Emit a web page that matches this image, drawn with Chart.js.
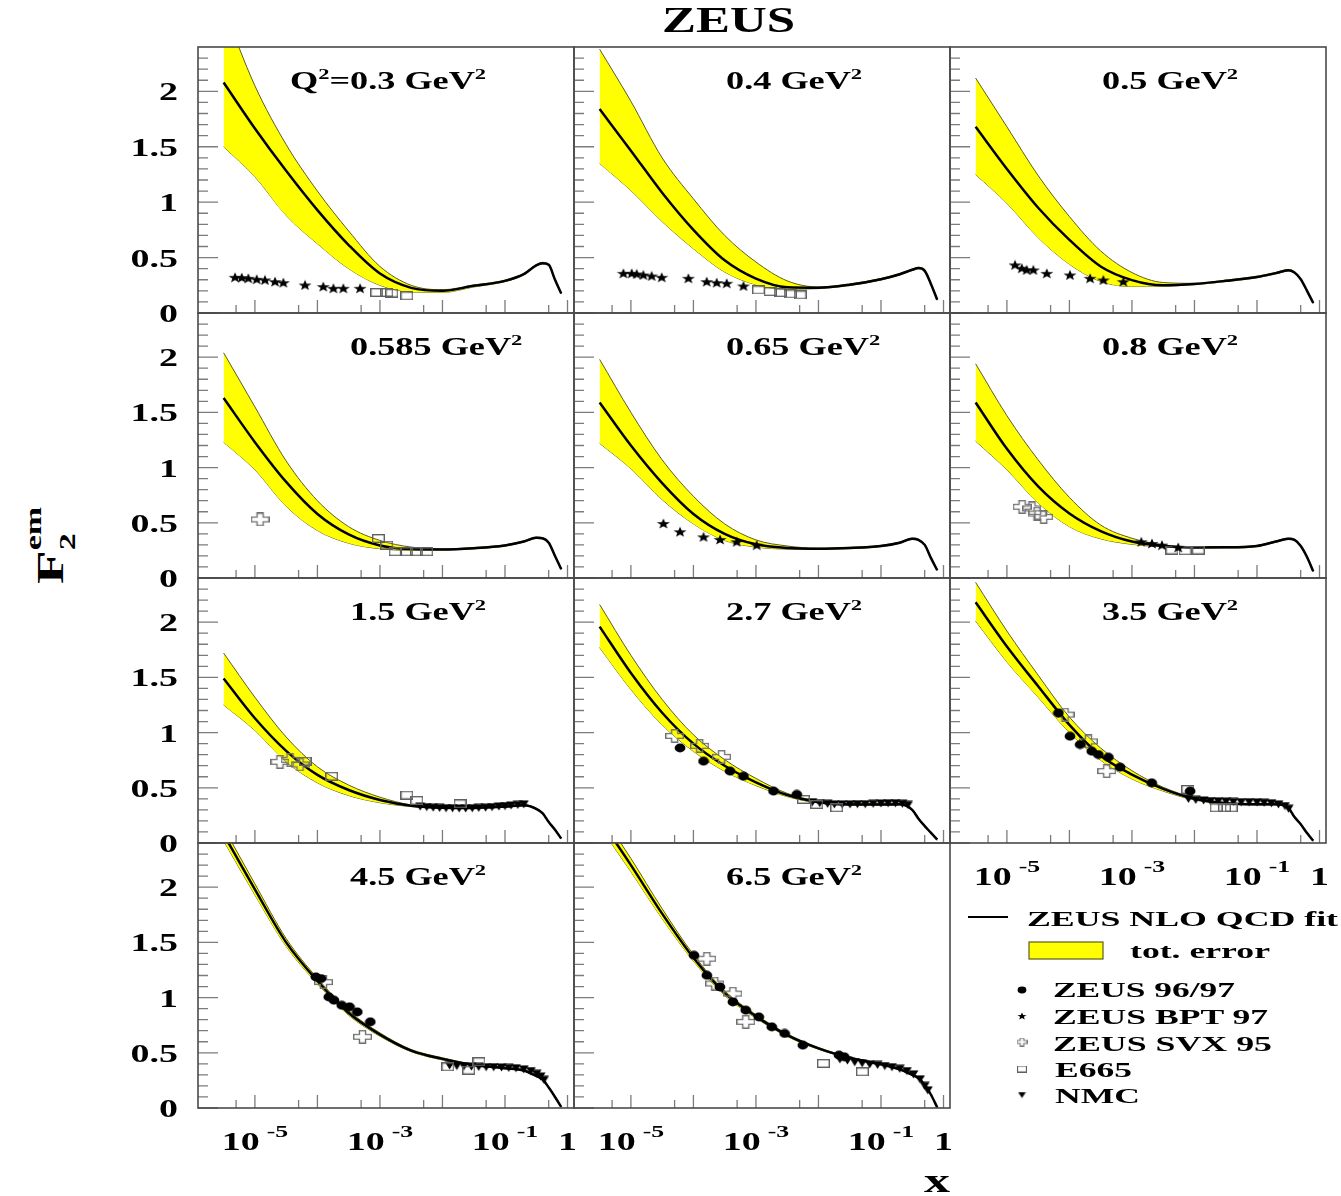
<!DOCTYPE html>
<html>
<head>
<meta charset="utf-8">
<title>ZEUS F2em low Q2</title>
<script src="https://cdn.jsdelivr.net/npm/chart.js@4.4.1/dist/chart.umd.min.js"></script>
<style>
html,body{margin:0;padding:0;background:#fff;}
body{position:relative;width:1341px;height:1196px;overflow:hidden;font-family:"Liberation Serif","Times New Roman",serif;font-weight:bold;color:#000;}
.t{position:absolute;white-space:nowrap;transform-origin:0 0;}
.sp{font-size:0.62em;position:relative;top:-0.66em;}
.sb{font-size:0.62em;position:relative;top:0.32em;}
.ysp{font-size:0.62em;position:relative;top:-0.95em;}
.ysb{font-size:0.62em;position:relative;top:0.5em;}
canvas{position:absolute;}
</style>
</head>
<body>
<script>
// ---------------- DATA ----------------
const Q2 = ['0.3','0.4','0.5','0.585','0.65','0.8','1.5','2.7','3.5','4.5','6.5'];

// x grid of the fit curves
const FIT_X = [3.16e-6, 1e-5, 3.16e-5, 1e-4, 3.16e-4, 1e-3, 3.16e-3, 1e-2, 3.16e-2, 0.1, 0.2, 0.316, 0.398, 0.501, 0.631, 0.794];

// ZEUS NLO QCD fit, central value, one row per Q2 bin
const FIT = [
 [2.08,1.665,1.283,0.928,0.613,0.356,0.227,0.200,0.245,0.290,0.350,0.430,0.450,0.435,0.300,0.175],
 [1.84,1.465,1.085,0.750,0.475,0.310,0.232,0.228,0.255,0.305,0.350,0.390,0.405,0.380,0.260,0.120],
 [1.68,1.300,0.950,0.660,0.420,0.297,0.250,0.262,0.290,0.325,0.360,0.385,0.365,0.305,0.200,0.090],
 [1.63,1.230,0.870,0.580,0.395,0.295,0.262,0.259,0.270,0.295,0.330,0.365,0.360,0.320,0.200,0.080],
 [1.59,1.200,0.860,0.580,0.400,0.305,0.272,0.265,0.272,0.290,0.320,0.355,0.345,0.300,0.180,0.070],
 [1.59,1.170,0.830,0.585,0.425,0.330,0.290,0.277,0.278,0.290,0.330,0.355,0.345,0.290,0.190,0.060],
 [1.49,1.130,0.835,0.617,0.480,0.390,0.338,0.320,0.318,0.330,0.342,0.310,0.270,0.190,0.120,0.040],
 [1.96,1.540,1.180,0.900,0.700,0.550,0.435,0.370,0.349,0.349,0.350,0.300,0.220,0.153,0.092,0.030],
 [2.18,1.780,1.420,1.070,0.790,0.620,0.490,0.400,0.360,0.350,0.350,0.320,0.235,0.170,0.090,0.020],
 [2.48,1.980,1.500,1.150,0.860,0.665,0.520,0.445,0.390,0.360,0.340,0.290,0.260,0.185,0.100,0.010],
 [2.62,2.200,1.760,1.360,1.040,0.830,0.660,0.540,0.455,0.395,0.350,0.300,0.270,0.210,0.120,0.005]
];
// upper edge of the total error band
const FIT_HI = [
 [2.75,2.05,1.52,1.10,0.74,0.42,0.25,0.21,0.252,0.297,0.357,0.437,0.457,0.442,0.306,0.18],
 [2.38,1.91,1.40,1.03,0.70,0.46,0.29,0.235,0.262,0.312,0.357,0.397,0.412,0.386,0.266,0.125],
 [2.12,1.68,1.24,0.87,0.56,0.365,0.275,0.268,0.297,0.332,0.367,0.392,0.371,0.31,0.205,0.095],
 [2.04,1.55,1.06,0.70,0.465,0.34,0.28,0.264,0.276,0.301,0.336,0.371,0.366,0.325,0.205,0.085],
 [1.98,1.50,1.07,0.74,0.49,0.345,0.29,0.27,0.278,0.296,0.326,0.361,0.351,0.305,0.185,0.075],
 [1.94,1.47,1.07,0.73,0.48,0.36,0.30,0.282,0.284,0.296,0.336,0.361,0.351,0.295,0.195,0.065],
 [1.72,1.32,0.96,0.69,0.525,0.415,0.345,0.325,0.324,0.336,0.348,0.316,0.276,0.195,0.125,0.045],
 [2.16,1.70,1.30,0.98,0.755,0.585,0.45,0.38,0.355,0.355,0.356,0.306,0.226,0.158,0.097,0.035],
 [2.36,1.92,1.52,1.14,0.86,0.655,0.505,0.41,0.366,0.356,0.356,0.326,0.241,0.175,0.095,0.025],
 [2.54,2.03,1.535,1.175,0.88,0.68,0.53,0.455,0.396,0.366,0.346,0.296,0.266,0.19,0.105,0.015],
 [2.69,2.26,1.805,1.39,1.062,0.846,0.672,0.548,0.461,0.401,0.356,0.306,0.276,0.215,0.125,0.01]
];
// lower edge of the total error band
const FIT_LO = [
 [1.50,1.23,0.88,0.625,0.40,0.25,0.19,0.185,0.235,0.283,0.343,0.423,0.443,0.428,0.294,0.17],
 [1.35,1.105,0.825,0.58,0.37,0.255,0.215,0.22,0.248,0.298,0.343,0.383,0.398,0.374,0.254,0.115],
 [1.25,0.99,0.68,0.44,0.285,0.24,0.242,0.256,0.283,0.318,0.353,0.378,0.359,0.30,0.195,0.085],
 [1.23,0.98,0.65,0.43,0.315,0.265,0.25,0.254,0.264,0.289,0.324,0.359,0.354,0.315,0.195,0.075],
 [1.22,0.99,0.71,0.49,0.34,0.28,0.262,0.26,0.266,0.284,0.314,0.349,0.339,0.295,0.175,0.065],
 [1.24,0.98,0.68,0.465,0.355,0.305,0.282,0.272,0.272,0.284,0.324,0.349,0.339,0.285,0.185,0.055],
 [1.25,1.02,0.735,0.545,0.43,0.365,0.33,0.315,0.312,0.324,0.336,0.304,0.264,0.185,0.115,0.035],
 [1.77,1.39,1.07,0.83,0.65,0.52,0.42,0.362,0.343,0.343,0.344,0.294,0.214,0.148,0.087,0.025],
 [2.01,1.64,1.32,1.00,0.75,0.58,0.47,0.39,0.354,0.344,0.344,0.314,0.229,0.165,0.085,0.015],
 [2.42,1.93,1.465,1.125,0.84,0.65,0.51,0.435,0.384,0.354,0.334,0.284,0.254,0.18,0.095,0.005],
 [2.55,2.14,1.715,1.33,1.018,0.814,0.648,0.532,0.449,0.389,0.344,0.294,0.264,0.205,0.115,0.0]
];

// measurements: [x, F2] per Q2 bin
const ZEUS_9697 = [
 [],[],[],[],[],[],[],
 [[6.11e-5,0.861],[1.45e-4,0.741],[3.85e-4,0.651],[6.31e-4,0.605],[1.91e-3,0.47],[4.5e-3,0.44]],
 [[6.65e-5,1.178],[1.02e-4,0.967],[1.48e-4,0.892],[2.28e-4,0.831],[2.9e-4,0.801],[4.2e-4,0.777],[6.46e-4,0.687],[2.07e-3,0.545],[8.51e-3,0.47]],
 [[9.44e-5,1.187],[1.14e-4,1.172],[1.52e-4,1.006],[1.84e-4,0.976],[2.45e-4,0.93],[3.26e-4,0.916],[4.34e-4,0.87],[7.0e-4,0.78]],
 [[1.02e-4,1.383],[1.64e-4,1.202],[2.65e-4,1.096],[4.28e-4,0.961],[6.87e-4,0.886],[1.11e-3,0.825],[1.79e-3,0.735],[2.88e-3,0.675],[5.62e-3,0.569],[2.13e-2,0.479],[2.58e-2,0.464]]
];
const ZEUS_BPT97 = [
 [[4.81e-6,0.322],[6.17e-6,0.319],[7.85e-6,0.313],[1.07e-5,0.304],[1.45e-5,0.298],[2.1e-5,0.283],[2.85e-5,0.274],[6.34e-5,0.253],[1.24e-4,0.238],[1.8e-4,0.223],[2.6e-4,0.223],[4.81e-4,0.223]],
 [[7.59e-6,0.358],[1.03e-5,0.358],[1.24e-5,0.352],[1.58e-5,0.343],[2.15e-5,0.334],[3.11e-5,0.322],[8.32e-5,0.313],[1.63e-4,0.283],[2.36e-4,0.274],[3.41e-4,0.268],[6.31e-4,0.244]],
 [[1.35e-5,0.434],[1.73e-5,0.404],[2.07e-5,0.389],[2.65e-5,0.389],[4.34e-5,0.358],[1.02e-4,0.343],[2.14e-4,0.313],[3.49e-4,0.298],[7.29e-4,0.283]],
 [],
 [[3.31e-5,0.494],[6.11e-5,0.419],[1.45e-4,0.373],[2.67e-4,0.349],[4.93e-4,0.328],[1.03e-3,0.298]],
 [[1.41e-3,0.328],[2.09e-3,0.313],[3.02e-3,0.298],[5.5e-3,0.277]],
 [],[],[],[],[]
];
const ZEUS_SVX95 = [
 [],[],[],
 [[1.21e-5,0.53]],
 [],
 [[1.75e-5,0.645],[2.52e-5,0.63],[3.03e-5,0.584],[3.88e-5,0.554]],
 [[2.52e-5,0.735],[3.65e-5,0.753],[5.27e-5,0.711]],
 [[5.01e-5,0.97],[1.26e-4,0.88],[2.82e-4,0.78]],
 [[8.51e-5,1.163],[2.01e-4,0.92],[3.95e-4,0.651]],
 [[1.25e-4,1.14],[5.25e-4,0.645]],
 [[1.64e-4,1.352],[2.19e-4,1.127],[4.28e-4,1.036],[6.87e-4,0.78]]
];
const E665 = [
 [[8.91e-4,0.185],[1.29e-3,0.185],[1.55e-3,0.18],[2.69e-3,0.155]],
 [[1.1e-3,0.208],[1.68e-3,0.193],[2.43e-3,0.184],[3.52e-3,0.172],[5.08e-3,0.163]],
 [],
 [[9.44e-4,0.358],[1.29e-3,0.298],[1.75e-3,0.238],[2.69e-3,0.238],[3.88e-3,0.238],[5.61e-3,0.238]],
 [],
 [[4.37e-3,0.253],[7.08e-3,0.247],[1.15e-2,0.253]],
 [[6.34e-5,0.741],[1.69e-4,0.605],[2.69e-3,0.434],[3.89e-3,0.386],[1.91e-2,0.355]],
 [[5.75e-3,0.395],[9.42e-3,0.349],[1.96e-2,0.319]],
 [[7.82e-3,0.485],[2.22e-2,0.319],[3.02e-2,0.319],[3.86e-2,0.319]],
 [[1.22e-2,0.373],[2.63e-2,0.343],[3.84e-2,0.419]],
 [[1.2e-2,0.404],[5.04e-2,0.328]]
];
const NMC = [
 [],[],[],[],[],[],
 [[4.4e-3,0.33],[5.6e-3,0.325],[7.1e-3,0.32],[9.0e-3,0.318],[1.14e-2,0.315],[1.45e-2,0.315],[1.85e-2,0.313],[2.35e-2,0.313],[3.0e-2,0.315],[3.8e-2,0.318],[4.9e-2,0.32],[6.2e-2,0.325],[8.0e-2,0.33],[0.1,0.335],[0.125,0.34],[0.16,0.345],[0.2,0.35]],
 [[0.008,0.37],[0.0105,0.36],[0.014,0.355],[0.018,0.35],[0.024,0.35],[0.032,0.35],[0.042,0.352],[0.056,0.352],[0.075,0.355],[0.1,0.358],[0.13,0.36],[0.17,0.36],[0.22,0.355],[0.27,0.345]],
 [[0.008,0.40],[0.0105,0.39],[0.014,0.385],[0.018,0.38],[0.024,0.378],[0.032,0.375],[0.042,0.372],[0.056,0.37],[0.075,0.37],[0.1,0.368],[0.13,0.365],[0.17,0.36],[0.22,0.35],[0.28,0.335],[0.32,0.31]],
 [[0.013,0.385],[0.017,0.38],[0.022,0.378],[0.029,0.375],[0.038,0.372],[0.05,0.37],[0.066,0.37],[0.088,0.367],[0.115,0.363],[0.15,0.36],[0.2,0.35],[0.26,0.335],[0.32,0.31],[0.37,0.285],[0.42,0.255]],
 [[0.022,0.44],[0.029,0.43],[0.038,0.415],[0.05,0.405],[0.066,0.395],[0.088,0.39],[0.115,0.38],[0.15,0.37],[0.2,0.355],[0.26,0.335],[0.33,0.305],[0.42,0.26],[0.5,0.2],[0.56,0.16]]
];

// axes / ticks
const X_MIN = 1.23e-6, X_MAX = 1.27, Y_MIN = 0, Y_MAX = 2.4;
const X_MAJOR = [1e-5,1e-4,1e-3,1e-2,1e-1,1];
const X_MINOR = [5e-6,5e-5,5e-4,5e-3,5e-2,0.5];
const X_LABELS = [[1e-5,'10','-5'],[1e-3,'10','-3'],[1e-1,'10','-1'],[1,'1','']];
const Y_MAJOR = [0,0.5,1,1.5,2];
const Y_LABELS = ['0','0.5','1','1.5','2'];
const Y_MINOR = [0.1,0.2,0.3,0.4,0.6,0.7,0.8,0.9,1.1,1.2,1.3,1.4,1.6,1.7,1.8,1.9,2.1,2.2,2.3];

// ---------------- LAYOUT ----------------
const COL_LEFT = [198, 574, 950], PANEL_W = 376;
const ROW_TOP = [47, 313, 578, 843], ROW_BOTTOM = [313, 578, 843, 1108];
const PADL = 100, PADR = 8, PADT = 8, PADB = 60;
const SX = 1.45;
const FF = '"Liberation Serif","Times New Roman",serif';

// ---------------- MARKERS ----------------
function mk(w,h,fn){const c=document.createElement('canvas');c.width=w;c.height=h;fn(c.getContext('2d'),w,h);return c;}
function circleM(w,h){return mk(w,h,g=>{g.fillStyle='#000';g.beginPath();g.ellipse(w/2,h/2,w/2-0.6,h/2-0.6,0,0,Math.PI*2);g.fill();});}
function starM(w,h){return mk(w,h,g=>{const rx=(w-1)/1.902, ry=(h-1)/1.809, cx=w/2, cy=0.5+ry;g.fillStyle='#000';g.beginPath();
  for(let k=0;k<10;k++){const r=k%2?0.42:1;const a=-Math.PI/2+k*Math.PI/5;const px=cx+r*rx*Math.cos(a),py=cy+r*ry*Math.sin(a);k?g.lineTo(px,py):g.moveTo(px,py);}g.closePath();g.fill();});}
function crossM(w,h,lw){return mk(w,h,g=>{const m=lw/2,x1=w*0.34,x2=w*0.66,y1=h*0.33,y2=h*0.67;g.strokeStyle='#707070';g.lineWidth=lw;g.beginPath();
  const P=[[x1,m],[x2,m],[x2,y1],[w-m,y1],[w-m,y2],[x2,y2],[x2,h-m],[x1,h-m],[x1,y2],[m,y2],[m,y1],[x1,y1]];
  P.forEach((p,i)=>i?g.lineTo(p[0],p[1]):g.moveTo(p[0],p[1]));g.closePath();g.stroke();});}
function squareM(w,h,lw){return mk(w,h,g=>{g.strokeStyle='#606060';g.lineWidth=lw;g.strokeRect(lw/2,lw/2,w-lw,h-lw);});}
function triM(w,h){return mk(w,h,g=>{g.fillStyle='#000';g.beginPath();g.moveTo(0.5,0.5);g.lineTo(w-0.5,0.5);g.lineTo(w/2,h-0.5);g.closePath();g.fill();});}

const M_CIRCLE = circleM(12,10), M_STAR = starM(14,11), M_CROSS = crossM(19,14,1.4), M_SQUARE = squareM(13,9,1.4), M_TRI = triM(11,9);

// ---------------- TEXT HELPERS ----------------
function txt(ctx, s, x, y, size, sx, align){
  ctx.save(); ctx.font = 'bold '+size+'px '+FF;
  const w = ctx.measureText(s).width*sx;
  const x0 = align==='right' ? x-w : align==='center' ? x-w/2 : x;
  ctx.translate(x0, y); ctx.scale(sx,1); ctx.textAlign='left'; ctx.textBaseline='alphabetic'; ctx.fillText(s,0,0); ctx.restore();
  return w;
}
function addText(html, x, baseline, fs, o){
  o = o || {};
  const el = document.createElement('div'); el.className='t'; el.innerHTML = html;
  el.style.fontSize = fs+'px'; el.style.lineHeight = fs+'px';
  document.body.appendChild(el);
  const w = el.getBoundingClientRect().width;
  const sx = o.width ? o.width / w : (o.sx || SX);
  let left = x;
  if (o.align==='center') left = x - w*sx/2; else if (o.align==='right') left = x - w*sx;
  el.style.left = left+'px'; el.style.top = (baseline - 0.8375*fs)+'px';
  el.style.transform = 'scaleX('+sx+')';
  return el;
}

// ---------------- AXES PLUGIN ----------------
const axesPlugin = {
  id: 'zeusAxes',
  afterDraw(chart, args, opts){
    const {ctx, chartArea:a} = chart, xs = chart.scales.x, ys = chart.scales.y;
    ctx.save();
    ctx.strokeStyle = '#7c7c7c'; ctx.lineWidth = 1.3; ctx.beginPath();
    X_MAJOR.forEach(v=>{const p=xs.getPixelForValue(v); ctx.moveTo(p,a.bottom); ctx.lineTo(p,a.bottom-13);});
    X_MINOR.forEach(v=>{const p=xs.getPixelForValue(v); ctx.moveTo(p,a.bottom); ctx.lineTo(p,a.bottom-8);});
    Y_MAJOR.forEach(v=>{const p=ys.getPixelForValue(v); ctx.moveTo(a.left,p); ctx.lineTo(a.left+20,p);});
    Y_MINOR.forEach(v=>{const p=ys.getPixelForValue(v); ctx.moveTo(a.left,p); ctx.lineTo(a.left+10,p);});
    ctx.stroke();
    ctx.strokeStyle = '#4a4a4a'; ctx.lineWidth = 1.6;
    ctx.strokeRect(a.left, a.top, a.right-a.left, a.bottom-a.top);
    ctx.fillStyle = '#000';
    if (opts.yLabels){
      Y_MAJOR.forEach((v,i)=>txt(ctx, Y_LABELS[i], a.left-20, ys.getPixelForValue(v)+9, 25, 1.52, 'right'));
    }
    if (opts.xLabels){
      X_LABELS.forEach(([v,base,ex])=>{
        const p = xs.getPixelForValue(v);
        ctx.font = 'bold 25px '+FF; const wb = ctx.measureText(base).width*1.52;
        ctx.font = 'bold 17px '+FF; const we = ex ? ctx.measureText(ex).width*1.52 : 0;
        const gap = ex ? 7 : 0, tot = wb+gap+we, x0 = p - tot/2;
        txt(ctx, base, x0, a.bottom+42, 25, 1.52, 'left');
        if (ex) txt(ctx, ex, x0+wb+gap, a.bottom+29, 17, 1.52, 'left');
      });
    }
    ctx.restore();
  }
};

// ---------------- BUILD PANELS ----------------
const pts = arr => arr.map(([x,y])=>({x,y}));
for (let i=0;i<11;i++){
  const r = Math.floor(i/3), c = i%3;
  const left = COL_LEFT[c], top = ROW_TOP[r], H = ROW_BOTTOM[r]-ROW_TOP[r];
  const cv = document.createElement('canvas');
  cv.width = PANEL_W+PADL+PADR; cv.height = H+PADT+PADB;
  cv.style.left = (left-PADL)+'px'; cv.style.top = (top-PADT)+'px';
  document.body.appendChild(cv);
  const curve = arr => FIT_X.map((x,k)=>({x, y: arr[i][k]}));
  const markerDs = (data, style, ord) => ({data: pts(data[i]), showLine:false, pointStyle: style, pointRadius: 5, order: ord});
  new Chart(cv, {
    type: 'line',
    data: { datasets: [
      markerDs(ZEUS_9697, M_CIRCLE, 0),
      markerDs(ZEUS_BPT97, M_STAR, 0),
      markerDs(ZEUS_SVX95, M_CROSS, 0),
      markerDs(E665, M_SQUARE, 0),
      markerDs(NMC, M_TRI, 0),
      {data: curve(FIT), borderColor:'#000', borderWidth:2.5, pointRadius:0, cubicInterpolationMode:'monotone', order:1},
      {data: curve(FIT_HI), borderColor:'#5c5c20', borderWidth:1, pointRadius:0, cubicInterpolationMode:'monotone', fill: 7, backgroundColor:'#ffff00', order:2},
      {data: curve(FIT_LO), borderColor:'#5c5c20', borderWidth:1, pointRadius:0, cubicInterpolationMode:'monotone', fill:false, order:3}
    ]},
    options: {
      responsive:false, animation:false, events:[],
      layout:{padding:{left:PADL,right:PADR,top:PADT,bottom:PADB}},
      plugins:{legend:{display:false}, tooltip:{enabled:false},
        zeusAxes:{yLabels: c===0, xLabels: (r===3 || i===8)}},
      scales:{
        x:{type:'logarithmic', min:X_MIN, max:X_MAX, display:false},
        y:{type:'linear', min:Y_MIN, max:Y_MAX, display:false}
      }
    },
    plugins:[axesPlugin]
  });
  // panel label
  const x0 = left + 152, base = top + 42;
  addText(Q2[i]+' GeV<span class="sp">2</span>', x0, base, 25, {sx:SX});
  if (i===0) addText('Q<span class="sp">2</span>=', x0, base, 25, {sx:SX, align:'right'});
}

// ---------------- LEGEND (empty 12th slot) ----------------
(function(){
  const L = 950, T = 843;
  const cv = document.createElement('canvas'); cv.width = 391; cv.height = 353;
  cv.style.left = L+'px'; cv.style.top = T+'px'; document.body.appendChild(cv);
  const g = cv.getContext('2d');
  g.strokeStyle='#000'; g.lineWidth=2; g.beginPath(); g.moveTo(968-L,917-T); g.lineTo(1008-L,917-T); g.stroke();
  g.fillStyle='#ffff00'; g.fillRect(1029-L,942-T,74,17); g.strokeStyle='#5c5c20'; g.lineWidth=1.2; g.strokeRect(1029-L,942-T,74,17);
  const ms = [circleM(10,8), starM(10,8), crossM(11,9,1.1), squareM(10,7,1.1), triM(9,7)];
  const my = [990, 1016, 1042, 1069, 1095];
  ms.forEach((m,k)=>g.drawImage(m, 1022-L-m.width/2, my[k]-T-m.height/2));
})();
addText('ZEUS NLO QCD fit', 1027, 926, 22, {width:311});
addText('tot. error', 1130, 958, 22, {width:140});
addText('ZEUS 96/97', 1053, 997, 22, {width:182});
addText('ZEUS BPT 97', 1053, 1024, 22, {width:215});
addText('ZEUS SVX 95', 1053, 1051, 22, {width:219});
addText('E665', 1055, 1077, 22, {width:77});
addText('NMC', 1055, 1103, 22, {width:85});

// ---------------- TITLES ----------------
addText('ZEUS', 728, 32, 36, {width:133, align:'center'});
addText('x', 937, 1193, 33, {width:26, align:'center'});
(function(){
  const fs = 38;
  const el = document.createElement('div'); el.className='t';
  el.innerHTML = 'F<span class="ysb">2</span><span class="ysp" style="margin-left:-0.5em">em</span>';
  el.style.fontSize = fs+'px'; el.style.lineHeight = fs+'px';
  document.body.appendChild(el);
  el.style.left = (63 - 0.8375*fs)+'px'; el.style.top = '584px';
  el.style.transform = 'rotate(-90deg) scaleX(1.45)';
})();
</script>
</body>
</html>
